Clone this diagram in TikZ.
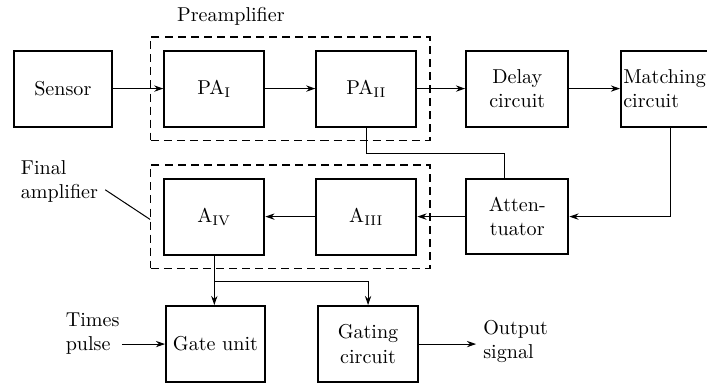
\documentclass[tikz,border=0pt]{standalone}
\usepackage{amsmath}
\usetikzlibrary{positioning,arrows.meta,fit}

\begin{document}
\begin{tikzpicture}[>={Stealth[length=1.6mm,width=1.1mm]},line width=0.5pt,
  blk/.style={draw,line width=1pt,minimum width=1.75cm,minimum height=1.33cm,align=center,inner sep=2pt},
  grp/.style={draw,line width=0.6pt,dash pattern=on 4pt off 2.5pt,inner sep=0.22cm}]
\useasboundingbox (0,0) rectangle (12.37,6.70);
\node[blk,minimum width=1.72cm] (sensor) at (1.10,5.15) {Sensor};
\node[blk] (pa1) at (3.75,5.15) {PA$_{\mathrm{I}}$};
\node[blk] (pa2) at (6.41,5.15) {PA$_{\mathrm{II}}$};
\node[blk,minimum width=1.79cm] (delay) at (9.05,5.15) {Delay\\circuit};
\node[blk,minimum width=1.55cm,text width=1.47cm,align=left,inner xsep=1pt] (match) at (11.64,5.15) {Matching\\circuit};
\node[blk] (a4) at (3.75,2.91) {A$_{\mathrm{IV}}$};
\node[blk] (a3) at (6.41,2.91) {A$_{\mathrm{III}}$};
\node[blk,minimum width=1.79cm,minimum height=1.30cm] (att) at (9.05,2.91) {Atten-\\tuator};
\node[blk,minimum width=1.73cm] (gate) at (3.77,0.68) {Gate unit};
\node[blk] (gating) at (6.44,0.68) {Gating\\circuit};
\node[grp,fit=(pa1)(pa2)] (pre) {};
\node[grp,fit=(a4)(a3)] (fin) {};
\node (prelbl) at (4.04,6.41) {Preamplifier};
\node[align=left] (finlbl) at (1.04,3.53) {Final\\amplifier};
\node[align=left,inner sep=1pt] (times) at (1.62,0.86) {Times\\pulse};
\node[align=left,anchor=west] (output) at (8.33,0.72) {Output\\signal};
\draw (finlbl.east) ++(0,-0.15) -- ([yshift=-0.05cm]fin.west |- a4);
\draw[->] (sensor) -- (pa1);
\draw[->] (pa1) -- (pa2);
\draw[->] (pa2) -- (delay);
\draw[->] (delay) -- (match);
\draw (pa2.south) -- ++(0,-0.45) -| ([xshift=-0.23cm]att.north);
\draw[->] ([xshift=0.1cm]match.south) |- (att.east);
\draw[->] (att) -- (a3);
\draw[->] (a3) -- (a4);
\draw[->] (a4.south) -- (a4.south |- gate.north);
\path (a4.south) ++(0,-0.45) coordinate (split);
\draw[->] (split) -| (gating.north);
\draw[->] (times.east |- gate) -- (gate);
\draw[->] (gating.east) -- (gating.east -| output.west);
\end{tikzpicture}
\end{document}
